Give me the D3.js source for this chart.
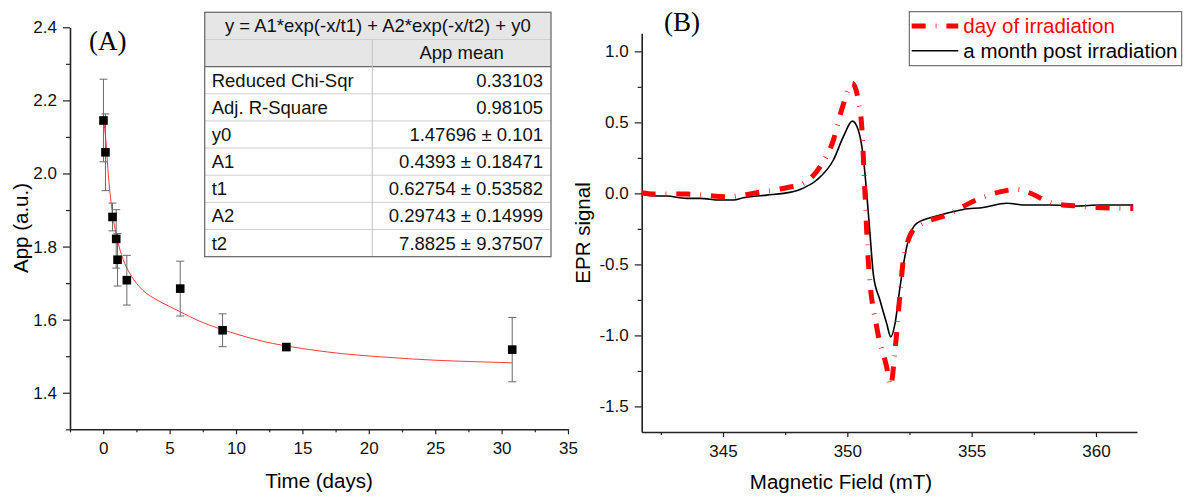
<!DOCTYPE html>
<html>
<head>
<meta charset="utf-8">
<script src="https://cdn.jsdelivr.net/npm/d3@7"></script>
<style>
    body { margin: 0; background: #fff; }
    svg { display: block; font-family: "Liberation Sans", Arial, sans-serif; }
    .tick text { font-size: 17px; fill: #111; }
</style>
</head>
<body>
<svg width="1184" height="496"></svg>
<script>
// Panel A: App mean vs time
const timeDays = [0.02, 0.17, 0.70, 0.98, 1.08, 1.78, 5.80, 8.99, 13.79, 30.80];
const appMean  = [2.145, 2.058, 1.881, 1.821, 1.764, 1.708, 1.685, 1.571, 1.525, 1.518];
const appErr   = [0.113, 0.105, 0.038, 0.080, 0.072, 0.068, 0.075, 0.045, 0.004, 0.088];
// fit curve
const fitTime = [0.03, 0.2, 0.4, 0.7, 1.0, 1.5, 2, 3, 4, 5, 6, 7, 8, 10, 12, 15, 18, 21, 25, 28, 30.8];
const fitApp  = [2.15, 2.09, 1.99, 1.89, 1.83, 1.765, 1.727, 1.68, 1.655, 1.636, 1.618, 1.600, 1.585,
                 1.561, 1.541, 1.521, 1.507, 1.498, 1.489, 1.485, 1.482];
const timeTicks = [0, 5, 10, 15, 20, 25, 30, 35];
const timeMinor = [-2.5, 2.5, 7.5, 12.5, 17.5, 22.5, 27.5, 32.5];
const appTicks = [1.4, 1.6, 1.8, 2.0, 2.2, 2.4];
const appMinor = [1.3, 1.5, 1.7, 1.9, 2.1, 2.3];

const fitTitle = 'y = A1*exp(-x/t1) + A2*exp(-x/t2) + y0';
const fitColumn = 'App mean';
const fitNames  = ['Reduced Chi-Sqr', 'Adj. R-Square', 'y0', 'A1', 't1', 'A2', 't2'];
const fitValues = ['0.33103', '0.98105', '1.47696 ± 0.101', '0.4393 ± 0.18471',
                   '0.62754 ± 0.53582', '0.29743 ± 0.14999', '7.8825 ± 9.37507'];

// Panel B: EPR spectra
const fieldDay  = [341.73, 342.2, 343.54, 345.15, 346.49, 347.56, 348.23, 348.9, 349.44, 349.77, 350.2,
                   350.44, 350.58, 350.71, 350.84, 351.18, 351.58, 351.74, 351.92, 352.12, 352.25, 352.45,
                   352.79, 353.99, 355.33, 356.14, 356.81, 357.21, 358.28, 359.22, 360.03, 361.5];
const signalDay = [0.005, -0.005, -0.005, -0.024, 0.009, 0.040, 0.070, 0.187, 0.375, 0.587, 0.775,
                   0.657, 0.469, 0.0, -0.470, -0.939, -1.221, -1.355, -1.104, -0.704, -0.470, -0.329,
                   -0.235, -0.153, -0.035, 0.011, 0.028, 0.011, -0.070, -0.089, -0.099, -0.106];
const fieldMonth  = [341.73, 342.07, 342.74, 343.54, 344.08, 344.88, 345.42, 345.82, 346.76, 347.43, 348.1,
                     348.77, 349.44, 349.84, 350.2, 350.44, 350.64, 350.78, 350.91, 351.05, 351.31, 351.58,
                     351.75, 351.92, 352.12, 352.39, 352.79, 353.73, 354.66, 355.47, 356.41, 357.21, 358.15,
                     359.22, 360.16, 361.5];
const signalMonth = [0.0, -0.017, -0.019, -0.035, -0.035, -0.047, -0.047, -0.031, -0.012, 0.0, 0.028,
                     0.094, 0.235, 0.399, 0.509, 0.446, 0.258, 0.0, -0.282, -0.575, -0.751, -0.915,
                     -1.010, -0.915, -0.658, -0.376, -0.211, -0.153, -0.113, -0.099, -0.070, -0.082, -0.082,
                     -0.089, -0.082, -0.082];
const fieldTicks = [345, 350, 355, 360];
const fieldMinor = [342.5, 347.5, 352.5, 357.5];
const signalTicks = [-1.5, -1.0, -0.5, 0.0, 0.5, 1.0];
const signalMinor = [-1.25, -0.75, -0.25, 0.25, 0.75];
const legendLabels = ['day of irradiation', 'a month post irradiation'];

const AXIS = '#222', RED = '#ff0000';
const svg = d3.select('svg');

function drawAxes(x, y, ticksX, minorX, ticksY, minorY, fmtX, fmtY) {
    const [x0, x1] = x.range(), [y0, y1] = y.range();
    svg.append('g').attr('transform', `translate(0,${y0})`)
        .call(d3.axisBottom(x).tickValues(minorX).tickSize(3).tickSizeOuter(0).tickFormat(''))
        .call(g => g.select('.domain').remove());
    svg.append('g').attr('transform', `translate(${x0},0)`)
        .call(d3.axisLeft(y).tickValues(minorY).tickSize(4).tickSizeOuter(0).tickFormat(''))
        .call(g => g.select('.domain').remove());
    const gx = svg.append('g').attr('transform', `translate(0,${y0})`)
        .call(d3.axisBottom(x).tickValues(ticksX).tickSize(5).tickPadding(8).tickSizeOuter(0).tickFormat(fmtX));
    const gy = svg.append('g').attr('transform', `translate(${x0},0)`)
        .call(d3.axisLeft(y).tickValues(ticksY).tickSize(7).tickPadding(6).tickSizeOuter(0).tickFormat(fmtY));
    [gx, gy].forEach(g => {
        g.attr('font-family', null).attr('font-size', null);
        g.select('.domain').attr('stroke', AXIS).attr('stroke-width', 1.6);
    });
    svg.selectAll('.tick line').attr('stroke', AXIS).attr('stroke-width', 1.2);
}

// ---------- Panel A ----------
const xA = d3.scaleLinear().domain([-2.5, 35]).range([70, 568]);
const yA = d3.scaleLinear().domain([1.3, 2.4]).range([429.3, 27.3]);
drawAxes(xA, yA, timeTicks, timeMinor, appTicks, appMinor, d3.format('d'), d => d.toFixed(1));

svg.append('path')
    .datum(fitTime.map((t, i) => [t, fitApp[i]]))
    .attr('d', d3.line().x(d => xA(d[0])).y(d => yA(d[1])).curve(d3.curveMonotoneX))
    .attr('fill', 'none')
    .attr('stroke', '#ff3b3b')
    .attr('stroke-width', 1);

timeDays.forEach(function (t, i) {
    const cx = xA(t), top = yA(appMean[i] + appErr[i]), bot = yA(appMean[i] - appErr[i]);
    const g = svg.append('g').attr('stroke', '#6a6a6a').attr('stroke-width', 1);
    g.append('line').attr('x1', cx).attr('x2', cx).attr('y1', top).attr('y2', bot);
    g.append('line').attr('x1', cx - 4).attr('x2', cx + 4).attr('y1', top).attr('y2', top);
    g.append('line').attr('x1', cx - 4).attr('x2', cx + 4).attr('y1', bot).attr('y2', bot);
});

svg.append('g').selectAll('rect')
    .data(timeDays)
    .join('rect')
    .attr('x', (t) => xA(t) - 4.3)
    .attr('y', (t, i) => yA(appMean[i]) - 4.3)
    .attr('width', 8.6)
    .attr('height', 8.6)
    .attr('fill', '#000');

svg.append('text').attr('x', 319).attr('y', 488)
    .attr('text-anchor', 'middle').attr('font-size', 20.5).text('Time (days)');
svg.append('text').attr('transform', 'translate(28,228) rotate(-90)')
    .attr('text-anchor', 'middle').attr('font-size', 20.5).text('App (a.u.)');
svg.append('text').attr('x', 89).attr('y', 50)
    .attr('font-family', '"Liberation Serif", "Times New Roman", serif')
    .attr('font-size', 27).text('(A)');

// fit table
const T = {x: 204.7, y: 12.3, w: 346.3, rowH: 27.15, split: 372.3};
svg.append('rect').attr('x', T.x).attr('y', T.y).attr('width', T.w).attr('height', T.rowH * 2)
    .attr('fill', '#e6e6e6');
for (let r = 1; r < fitNames.length + 2; r++) {
    svg.append('line').attr('x1', T.x).attr('x2', T.x + T.w)
        .attr('y1', T.y + r * T.rowH).attr('y2', T.y + r * T.rowH)
        .attr('stroke', r === 2 ? '#666' : '#cfcfcf').attr('stroke-width', r === 2 ? 1.2 : 1);
}
svg.append('line').attr('x1', T.split).attr('x2', T.split)
    .attr('y1', T.y + T.rowH).attr('y2', T.y + T.rowH * (fitNames.length + 2))
    .attr('stroke', '#c4c4c4');
svg.append('rect').attr('x', T.x).attr('y', T.y).attr('width', T.w)
    .attr('height', T.rowH * (fitNames.length + 2))
    .attr('fill', 'none').attr('stroke', '#6e6e6e').attr('stroke-width', 1.3);

const tableText = svg.append('g').attr('font-size', 18.5).attr('fill', '#111');
tableText.append('text').attr('x', T.x + T.w / 2).attr('y', T.y + 20)
    .attr('text-anchor', 'middle').text(fitTitle);
tableText.append('text').attr('x', (T.split + T.x + T.w) / 2).attr('y', T.y + T.rowH + 20)
    .attr('text-anchor', 'middle').text(fitColumn);
fitNames.forEach(function (name, i) {
    const by = T.y + (i + 2) * T.rowH + 20;
    tableText.append('text').attr('x', T.x + 7).attr('y', by).text(name);
    tableText.append('text').attr('x', T.x + T.w - 8).attr('y', by)
        .attr('text-anchor', 'end').text(fitValues[i]);
});

// ---------- Panel B ----------
const xB = d3.scaleLinear().domain([341.73, 361.65]).range([641.7, 1137]);
const yB = d3.scaleLinear().domain([-1.68, 1.127]).range([432, 33.3]);
drawAxes(xB, yB, fieldTicks, fieldMinor, signalTicks, signalMinor, d3.format('d'), d => d.toFixed(1));

const lineB = d3.line().x(d => xB(d[0])).y(d => yB(d[1])).curve(d3.curveMonotoneX);
svg.append('path')
    .datum(fieldMonth.map((f, i) => [f, signalMonth[i]]))
    .attr('d', lineB)
    .attr('fill', 'none').attr('stroke', '#000').attr('stroke-width', 1.6);
svg.append('path')
    .datum(fieldDay.map((f, i) => [f, signalDay[i]]))
    .attr('d', lineB)
    .attr('fill', 'none').attr('stroke', RED).attr('stroke-width', 5)
    .attr('stroke-dasharray', '14 10 0.7 10');

svg.append('text').attr('x', 841).attr('y', 489)
    .attr('text-anchor', 'middle').attr('font-size', 20.5).text('Magnetic Field (mT)');
svg.append('text').attr('transform', 'translate(590,233) rotate(-90)')
    .attr('text-anchor', 'middle').attr('font-size', 20.5).text('EPR signal');
svg.append('text').attr('x', 664).attr('y', 31)
    .attr('font-family', '"Liberation Serif", "Times New Roman", serif')
    .attr('font-size', 27).text('(B)');

// legend
const L = {x: 909.3, y: 11.7, w: 272.4, h: 54};
svg.append('rect').attr('x', L.x).attr('y', L.y).attr('width', L.w).attr('height', L.h)
    .attr('fill', '#fff').attr('stroke', '#555').attr('stroke-width', 1);
const legendStyles = [
    {color: RED, width: 5, dash: '14 10 0.7 10', ly: 26},
    {color: '#000', width: 1.6, dash: null, ly: 50.7}
];
legendLabels.forEach(function (label, i) {
    const s = legendStyles[i];
    svg.append('line').attr('x1', 911.7).attr('x2', 958.3).attr('y1', s.ly).attr('y2', s.ly)
        .attr('stroke', s.color).attr('stroke-width', s.width).attr('stroke-dasharray', s.dash);
    svg.append('text').attr('x', 963.3).attr('y', s.ly + 7)
        .attr('font-size', 20.5).attr('fill', s.color).text(label);
});
</script>
</body>
</html>
